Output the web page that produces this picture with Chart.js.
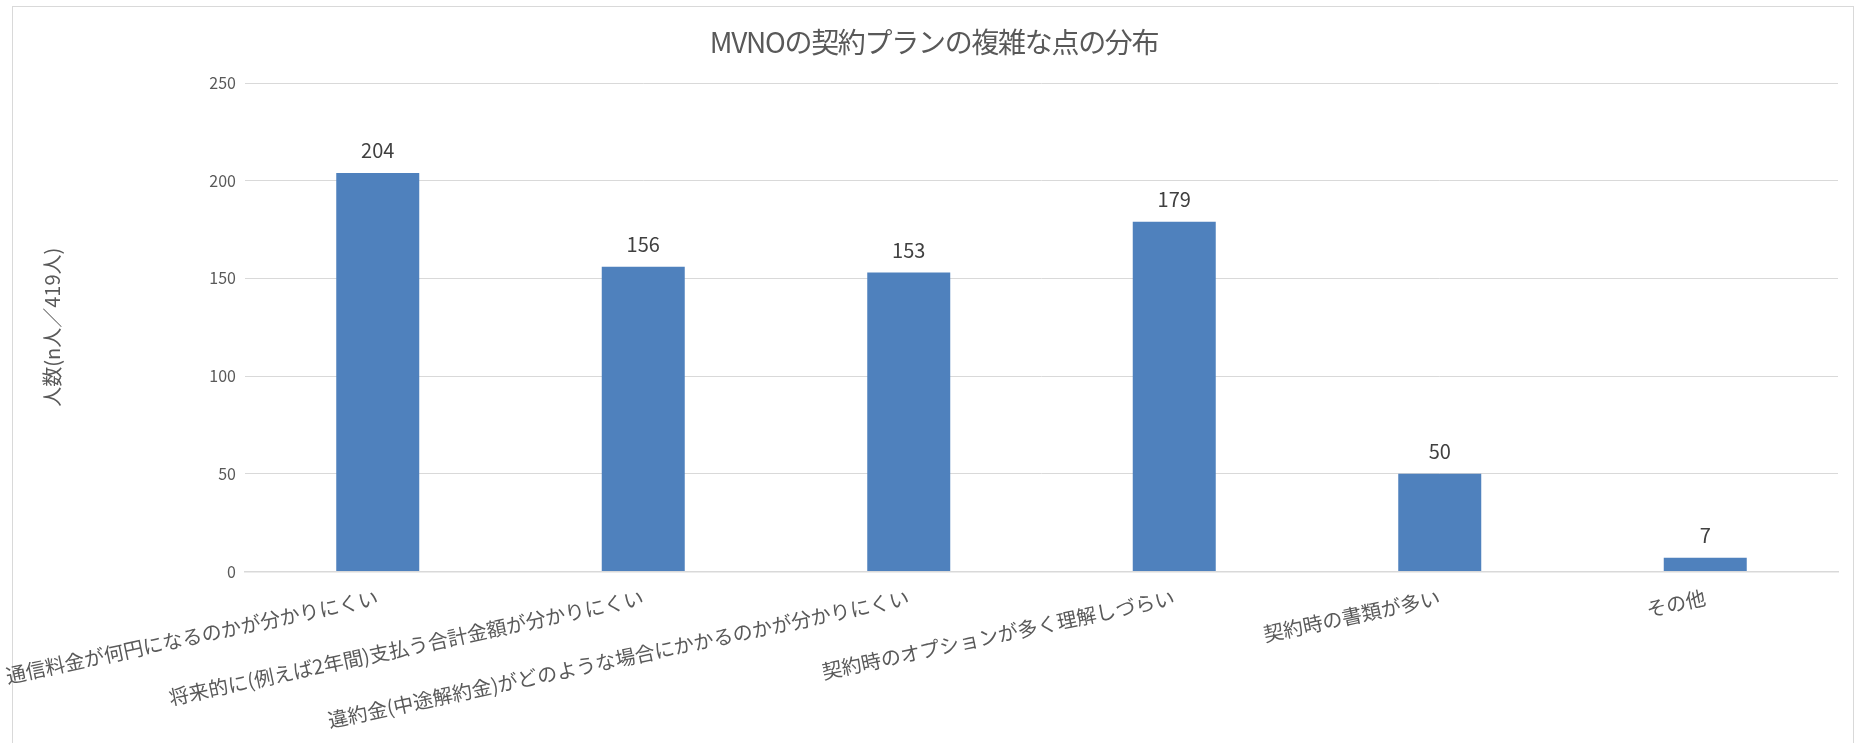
<!DOCTYPE html>
<html>
<head>
<meta charset="utf-8">
<script src="https://cdn.jsdelivr.net/npm/chart.js@4.4.1/dist/chart.umd.min.js"></script>
<style>
html,body{margin:0;padding:0;background:#fff;}
canvas{display:block;}
</style>
</head>
<body>
<canvas id="c" width="1859" height="743"></canvas>
<script>
const categories = [
  "通信料金が何円になるのかが分かりにくい",
  "将来的に(例えば2年間)支払う合計金額が分かりにくい",
  "違約金(中途解約金)がどのような場合にかかるのかが分かりにくい",
  "契約時のオプションが多く理解しづらい",
  "契約時の書類が多い",
  "その他"
];
const counts = [204, 156, 153, 179, 50, 7];
const yTicks = [0, 50, 100, 150, 200, 250];
const chartTitle = "MVNOの契約プランの複雑な点の分布";
const yTitle = "人数(n人／419人)";

const FONT = "'Noto Sans CJK JP', 'Noto Sans', sans-serif";

const framePlugin = {
  id: 'frame',
  beforeDraw(chart) {
    const ctx = chart.ctx;
    ctx.save();
    ctx.fillStyle = '#ffffff';
    ctx.fillRect(0, 0, chart.width, chart.height);
    ctx.strokeStyle = '#d9d9d9';
    ctx.lineWidth = 1;
    ctx.strokeRect(12.5, 6.5, 1841, 800);
    ctx.restore();
    // tighter letter spacing for the title, as in the reference font
    const tb = chart.titleBlock;
    if (tb && !tb._wrapped) {
      const orig = tb.draw;
      tb.draw = function () {
        const c = this.ctx;
        c.save();
        c.letterSpacing = '-1.3px';
        orig.apply(this, arguments);
        c.restore();
      };
      tb._wrapped = true;
    }
  }
};

const valueLabels = {
  id: 'valueLabels',
  afterDatasetsDraw(chart) {
    const ctx = chart.ctx;
    ctx.save();
    ctx.font = "20px " + FONT;
    ctx.fillStyle = '#404040';
    ctx.textAlign = 'center';
    ctx.textBaseline = 'middle';
    chart.data.datasets.forEach((ds, di) => {
      const meta = chart.getDatasetMeta(di);
      meta.data.forEach((bar, i) => {
        ctx.fillText(String(ds.data[i]), bar.x, bar.y - 22);
      });
    });
    ctx.restore();
  }
};

new Chart(document.getElementById('c'), {
  type: 'bar',
  data: {
    labels: categories,
    datasets: [{
      data: counts,
      backgroundColor: '#4f81bd',
      borderWidth: 0,
      categoryPercentage: 1.0,
      barPercentage: 0.3126
    }]
  },
  options: {
    responsive: false,
    devicePixelRatio: 1,
    animation: false,
    layout: { padding: { left: 30, right: 21, top: 0, bottom: 0 } },
    plugins: {
      legend: { display: false },
      tooltip: { enabled: false },
      title: {
        display: true,
        text: chartTitle,
        color: '#595959',
        font: { family: FONT, size: 28, weight: 'normal' },
        padding: { top: 26, bottom: 23.4 }
      }
    },
    scales: {
      x: {
        grid: { display: false },
        border: { display: true, color: '#d9d9d9', width: 1.5 },
        ticks: {
          color: '#595959',
          font: { family: FONT, size: 20 },
          autoSkip: false,
          maxRotation: 12,
          minRotation: 12,
          padding: 6
        },
        afterFit(scale) {
          scale.paddingLeft = 0;
          scale.paddingRight = 0;
          scale.height = 743 - 571.5;
        }
      },
      y: {
        min: 0,
        max: 250,
        afterBuildTicks(scale) {
          scale.ticks = yTicks.map(v => ({ value: v }));
        },
        grid: { color: '#d9d9d9', lineWidth: 1, drawTicks: false },
        border: { display: false },
        ticks: {
          color: '#595959',
          font: { family: FONT, size: 16 },
          padding: 9
        },
        title: {
          display: true,
          text: yTitle,
          color: '#595959',
          font: { family: FONT, size: 20, weight: 'normal' },
          padding: { top: 10, bottom: 0 }
        },
        afterFit(scale) {
          scale.width = 245 - 30;
          scale.paddingTop = 0;
          scale.paddingBottom = 0;
        }
      }
    }
  },
  plugins: [framePlugin, valueLabels]
});
</script>
</body>
</html>
